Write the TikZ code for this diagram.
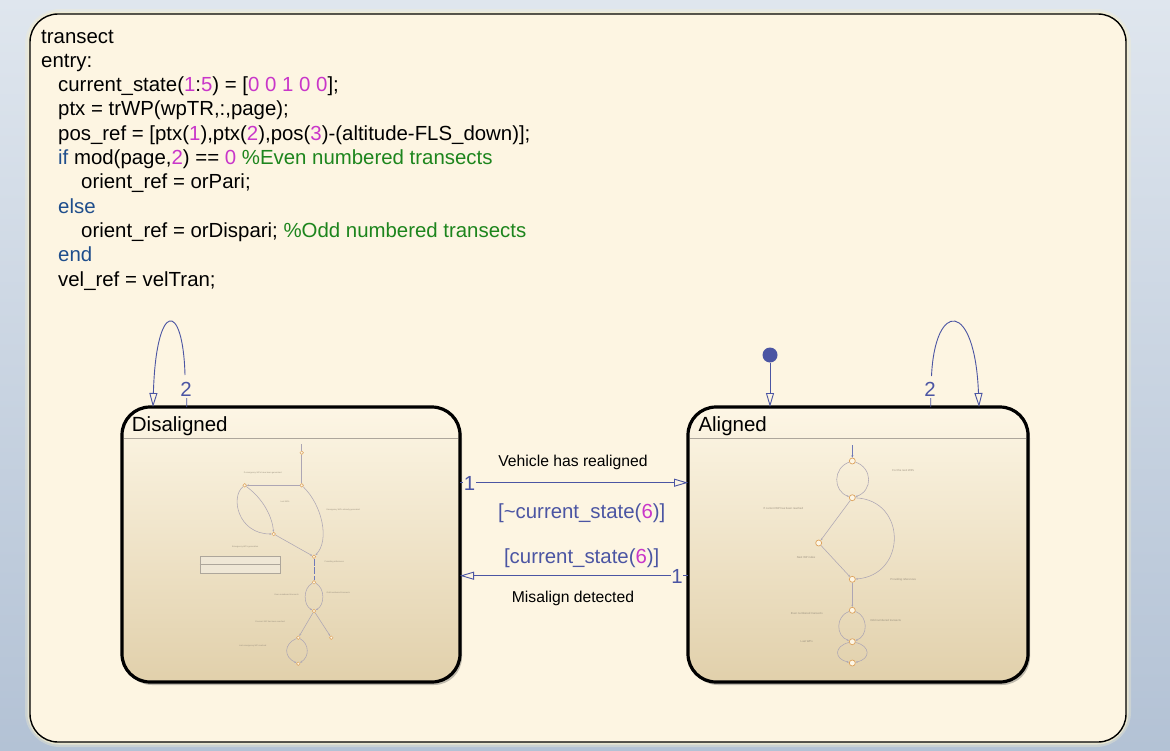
\documentclass[tikz,border=0pt]{standalone}
\usepackage{fontspec}
\setmainfont{Liberation Sans}
\usetikzlibrary{arrows.meta,shadows,calc}
\definecolor{bgtop}{HTML}{DFE6EE}
\definecolor{bgbot}{HTML}{B3C2D5}
\definecolor{chartfill}{HTML}{FDF5E2}
\definecolor{glow}{HTML}{F3EDCF}
\definecolor{sttop}{HTML}{FDF6E5}
\definecolor{stbot}{HTML}{E1D0AB}
\definecolor{kw}{HTML}{1F4E8C}
\definecolor{num}{HTML}{C936C9}
\definecolor{cmt}{HTML}{1D851D}
\definecolor{tr}{HTML}{4B55A3}
\definecolor{subc}{HTML}{ADA6B4}
\definecolor{subb}{HTML}{6F79B8}
\definecolor{junc}{HTML}{DDA35E}
\definecolor{tinyc}{HTML}{9C9280}
\definecolor{hdr}{HTML}{ADA69B}
\definecolor{boxf}{HTML}{EFE7D6}
\tikzset{
  codeline/.style={anchor=base west, inner sep=0pt, font=\fontsize{20.4}{24}\selectfont},
  statebox/.style={draw=black, line width=3.2pt, rounded corners=28pt, top color=sttop, bottom color=stbot,
     inner sep=0pt, outer sep=0pt, minimum height=275pt,
     drop shadow={shadow xshift=2pt, shadow yshift=-3pt, opacity=0.35, fill=black!70}},
  trans/.style={draw=tr, line width=0.9pt, -{Triangle[open,length=14pt,width=8pt]}},
  translbl/.style={font=\fontsize{20.4}{24}\selectfont, text=tr, inner sep=0pt, anchor=base},
  plainlbl/.style={font=\fontsize{15.7}{18}\selectfont, inner sep=0pt, anchor=base},
  djunc/.style={circle, draw=junc, fill=sttop, inner sep=0pt, minimum size=3.6pt, line width=0.5pt},
  ajunc/.style={circle, draw=junc, fill=sttop, inner sep=0pt, minimum size=6pt, line width=0.7pt},
  subtr/.style={draw=subc, line width=0.55pt},
  subarr/.style={subtr, -{Stealth[length=2.2pt,width=1.8pt]}},
  dtiny/.style={font=\fontsize{2.1}{2.5}\selectfont, text=tinyc, inner sep=0pt},
  atiny/.style={font=\fontsize{2.8}{3.2}\selectfont, text=tinyc, inner sep=0pt},
}
\begin{document}
\begin{tikzpicture}[x=1pt,y=-1pt]
\useasboundingbox (0,0) rectangle (1170,750);
\shade[top color=bgtop, bottom color=bgbot] (0,0) rectangle (1170,750);
% glow around chart
\draw[glow, line width=10pt, opacity=0.35, rounded corners=30pt] (30,14) rectangle (1126,742);
\draw[glow, line width=5pt, opacity=0.7, rounded corners=29pt] (30,14) rectangle (1126,742);
\node[draw=black, line width=1.4pt, fill=chartfill, rounded corners=28pt, minimum width=1096pt,
      minimum height=728pt, inner sep=0pt, outer sep=0pt] (chart) at (578,378) {};

% code text
\node[codeline] (c1) at (41,43) {transect};
\node[codeline] (c2) at (41,67.3) {entry:};
\node[codeline] (c3) at (58,91.6) {current\_state(\textcolor{num}{1}:\textcolor{num}{5}) = [\textcolor{num}{0 0 1 0 0}];};
\node[codeline] (c4) at (58,115.9) {ptx = trWP(wpTR,:,page);};
\node[codeline] (c5) at (58,140.2) {pos\_ref = [ptx(\textcolor{num}{1}),ptx(\textcolor{num}{2}),pos(\textcolor{num}{3})-(altitude-FLS\_down)];};
\node[codeline] (c6) at (58,164.5) {\textcolor{kw}{if} mod(page,\textcolor{num}{2}) == \textcolor{num}{0} \textcolor{cmt}{\%Even numbered transects}};
\node[codeline] (c7) at (81,188.8) {orient\_ref = orPari;};
\node[codeline] (c8) at (58,213.1) {\textcolor{kw}{else}};
\node[codeline] (c9) at (81,237.4) {orient\_ref = orDispari; \textcolor{cmt}{\%Odd numbered transects}};
\node[codeline] (c10) at (58,261.7) {\textcolor{kw}{end}};
\node[codeline] (c11) at (58,286) {vel\_ref = velTran;};

% states
\node[statebox, minimum width=338pt] (dis) at (291,544.5) {};
\node[statebox, minimum width=340pt] (ali) at (858,544.5) {};
\draw[hdr, line width=0.8pt] ([xshift=2pt]dis.west |- 0,438.3) -- ([xshift=-2pt]dis.east |- 0,438.3);
\draw[hdr, line width=0.8pt] ([xshift=2pt]ali.west |- 0,438.3) -- ([xshift=-2pt]ali.east |- 0,438.3);
\node[anchor=base west, inner sep=0pt, font=\fontsize{20.5}{24}\selectfont] (dtitle) at (131.7,431) {Disaligned};
\node[anchor=base west, inner sep=0pt, font=\fontsize{20.5}{24}\selectfont] (atitle) at (698.3,431) {Aligned};

% ---- Disaligned sub-chart ----
\coordinate (dS) at (301.7,444);
\node[djunc] (dA0) at (301.7,452.7) {};
\node[djunc] (dA) at (301.7,485.3) {};
\node[djunc] (dB) at (244.7,485.3) {};
\node[djunc] (dC) at (273.7,534) {};
\node[djunc] (dD) at (314,556.7) {};
\node[djunc] (dE) at (314,582.3) {};
\node[djunc] (dF) at (314,611) {};
\node[djunc] (dG) at (298.3,637.7) {};
\node[djunc] (dH) at (331.3,637.7) {};
\node[djunc] (dI) at (298.3,663.7) {};
\draw[subtr] (dS) -- (dA0);
\draw[subtr] (dA0) -- (dA);
\draw[subarr] (dA) -- (dB);
\draw[subarr] (dB) .. controls (230,497) and (238,534) .. (dC);
\draw[subarr] (dB) .. controls (262,498) and (272,515) .. (dC);
\draw[subarr] (dA) .. controls (322,505) and (330,540) .. (dD);
\draw[subarr] (dC) -- (dD);
\draw[draw=subb, line width=0.9pt, dash pattern=on 7pt off 1.5pt] (dD) -- (dE);
\draw[subarr] (dE) .. controls (303,588) and (303,605) .. (dF);
\draw[subarr] (dE) .. controls (325,588) and (325,605) .. (dF);
\draw[subarr] (dF) -- (dG);
\draw[subarr] (dF) -- (dH);
\draw[subarr] (dG) .. controls (283.6,644) and (283.6,657) .. (dI);
\draw[subarr] (dG) .. controls (309.5,644) and (309.5,657) .. (dI);
\node[draw=hdr, line width=0.7pt, fill=boxf, minimum width=80.7pt, minimum height=17.4pt, inner sep=0pt] (dbox) at (240.35,565) {};
\draw[hdr, line width=0.5pt] (dbox.west |- 0,564.3) -- (dbox.east |- 0,564.3);
\node[dtiny] (dt1) at (262.7,473.3) {If emergency WPs have been generated};
\node[dtiny] (dt2) at (285,502) {Last WPs};
\node[dtiny] (dt3) at (343.3,510) {Emergency WPs already generated};
\node[dtiny] (dt4) at (245.3,547) {Emergency WPs generation};
\node[dtiny] (dt5) at (334.3,562.3) {Providing references};
\node[dtiny] (dt6) at (286.7,595) {Even numbered transects};
\node[dtiny] (dt7) at (338.3,592.3) {Odd numbered transects};
\node[dtiny] (dt8) at (270,622) {If current WP has been reached};
\node[dtiny] (dt9) at (252.7,646.3) {Last emergency WP reached};

% ---- Aligned sub-chart ----
\coordinate (aS) at (852.3,445);
\node[ajunc] (aJ1) at (852.3,461) {};
\node[ajunc] (aJ2) at (852.3,497.7) {};
\node[ajunc] (aJ3) at (818.7,543) {};
\node[ajunc] (aJ4) at (852.3,579.3) {};
\node[ajunc] (aJ5) at (852.3,610.3) {};
\node[ajunc] (aJ6) at (852.3,641.7) {};
\node[ajunc] (aJ7) at (852.3,663) {};
\draw[draw=subb, line width=0.8pt, -{Stealth[length=2.5pt,width=2pt]}] (aS) -- (aJ1);
\draw[subarr] (aJ1) .. controls (832.8,468) and (832.8,491) .. (aJ2);
\draw[subarr] (aJ1) .. controls (872.8,468) and (872.8,491) .. (aJ2);
\draw[subarr] (aJ2) -- (aJ3);
\draw[subarr] (aJ3) -- (aJ4);
\draw[subarr] (aJ2) .. controls (907,500) and (907,575) .. (aJ4);
\draw[subarr] (aJ4) -- (aJ5);
\draw[subarr] (aJ5) .. controls (835.5,616) and (835.5,636) .. (aJ6);
\draw[subarr] (aJ5) .. controls (868.3,616) and (868.3,636) .. (aJ6);
\draw[subarr] (aJ6) .. controls (833.9,646) and (833.9,659) .. (aJ7);
\draw[subarr] (aJ6) .. controls (870.8,646) and (870.8,659) .. (aJ7);
\node[atiny] (at1) at (903.3,470.7) {For the next WPs};
\node[atiny] (at2) at (783.3,508.7) {If current WP has been reached};
\node[atiny] (at3) at (806,557.7) {Next WP index};
\node[atiny] (at4) at (903.3,580) {Providing references};
\node[atiny] (at5) at (806.7,613.7) {Even numbered transects};
\node[atiny] (at6) at (885.7,620) {Odd numbered transects};
\node[atiny] (at7) at (806.7,641.3) {Last WPs};

% ---- transitions ----
\node[circle, fill=tr, minimum size=15pt, inner sep=0pt] (init) at (770,355) {};
\draw[trans] (init) -- (ali.north -| init);

\coordinate (dl1) at (dis.north -| 186.7,0);
\coordinate (dl2) at (dis.north -| 153,0);
\draw[trans] (dl1) -- ++(0,-9) (185,375) .. controls (183,300) and (156,300) .. (dl2);
\node[translbl] (dlab) at (186,396) {2};

\coordinate (al1) at (ali.north -| 930.7,0);
\coordinate (al2) at (ali.north -| 979,0);
\draw[trans] (al1) -- ++(0,-9) (931.5,376) .. controls (935,300) and (975,300) .. (al2);
\node[translbl] (alab) at (930,396) {2};

\draw[trans] (dis.east |- 0,482.7) -- (ali.west |- 0,482.7);
\node[translbl, fill=chartfill, inner sep=0.5pt] (one1) at (469.5,490) {1};
\draw[trans] (ali.west |- 0,575.7) -- (dis.east |- 0,575.7);
\node[translbl, fill=chartfill, inner sep=0.5pt] (one2) at (677,583) {1};

\node[plainlbl] (l1) at (573,466.7) {Vehicle has realigned};
\node[translbl] (l2) at (581.7,518) {[\textasciitilde current\_state(\textcolor{num}{6})]};
\node[translbl] (l3) at (581.7,563.3) {[current\_state(\textcolor{num}{6})]};
\node[plainlbl] (l4) at (573,602.3) {Misalign detected};
\end{tikzpicture}
\end{document}
